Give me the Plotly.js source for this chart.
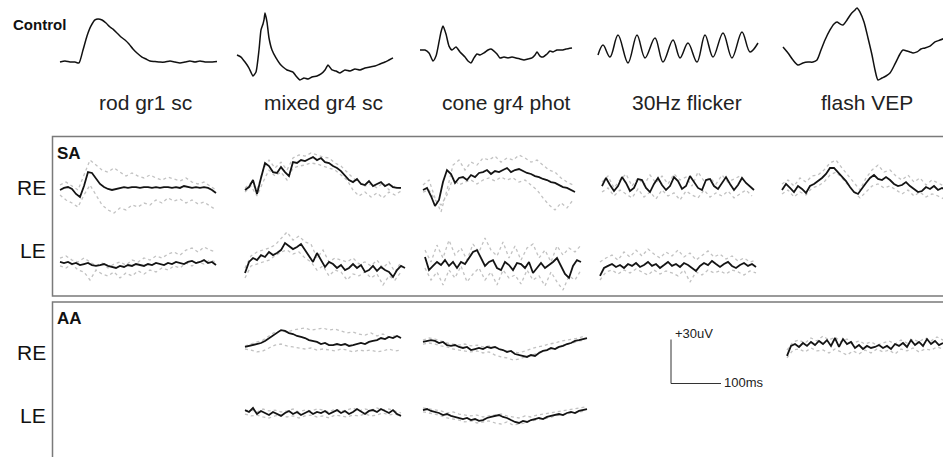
<!DOCTYPE html>
<html><head><meta charset="utf-8">
<script src="https://cdn.plot.ly/plotly-3.0.1.min.js"></script>
<style>html,body{margin:0;padding:0;background:#fff}#chart{width:943px;height:457px}</style>
</head><body><div id="chart"></div>
<script>
// ---------- labels ----------
const stimuli = ["rod gr1 sc", "mixed gr4 sc", "cone gr4 phot", "30Hz flicker", "flash VEP"];
const groupLabels = ["SA", "AA"];
const eyeLabels = ["RE", "LE"];
const controlLabel = "Control";
const scaleBarUV = 30;     // uV
const scaleBarMs = 100;    // ms

// ---------- control traces (time ms, amplitude uV) ----------
const ctrlRodT = [0,10,20,30,38,46,54,62,70,76,84,92,100,106,114,122,130,138,146,154,164,172,180,190,200,210,220,230,240,250,260,270,280,290,300,314];
const ctrlRodV = [-1.4,-0.7,-1.4,-1.4,-2,6.8,16.4,23.2,27.3,28,27.3,25.2,22.5,21.1,18.4,15.7,13.6,10.9,7.5,4.8,2,0.7,-0.7,-1,-1.4,-1.4,-0.7,-1.4,-2,-1.4,-0.7,-1.4,-0.7,-1.4,-1.4,-1];
const ctrlMixedT = [0,8,16,24,32,38,44,48,52,54,56,60,64,70,78,86,92,100,106,112,118,126,134,142,150,160,168,176,182,190,198,206,216,226,236,246,256,266,276,286,296,304,312];
const ctrlMixedV = [3.4,2,-1.4,-5.5,-10.9,-8.2,6.8,20.5,24.6,27.3,32,25.9,15,6.8,1.4,-2.7,-4.8,-6.8,-7.5,-8.2,-10.9,-13.6,-12.3,-13,-11.6,-10.9,-9.5,-6.8,-3.4,-6.8,-7.5,-8.9,-6.8,-7.5,-6.1,-6.8,-5.5,-4.8,-4.1,-2.7,-1.4,0,1.4];
const ctrlConeT = [0,10,18,26,32,38,42,46,52,58,64,72,80,90,96,102,108,114,120,128,136,142,148,154,160,168,176,184,192,200,208,216,224,230,234,240,246,254,260,266,274,284,292,304];
const ctrlConeV = [6.8,6.8,4.8,-0.7,2.7,12.3,19.1,23.2,17.7,9.5,6.8,8.9,5.5,2,-0.7,-2,1.4,4.1,3.4,4.8,6.8,7.5,6.1,4.1,1.4,2,1.4,2,1.4,0.7,0,0.7,1.4,3.4,5.5,2.7,2,4.1,6.1,5.5,6.8,6.8,7.5,8.2];
const ctrlFlickerT = [0,10,24,40,60,78,94,114,130,150,164,180,198,214,230,250,268,288,304,320];
const ctrlFlickerV = [3.4,10.2,2,17,-2,17,1.4,15,-1.4,13.6,1.4,11.6,-1.4,17,2,18.4,1.4,19.1,5.5,11.6];
const ctrlVepT = [0,10,20,30,40,50,60,68,76,84,94,102,108,114,120,128,136,144,148,154,162,170,178,184,190,198,206,214,224,234,240,248,254,260,268,276,284,294,304,314,324];
const ctrlVepV = [8.9,4.8,0,-3.4,-2,-1.4,-1.4,0,6.8,13.6,20.5,24.6,25.9,24.6,23.9,27.3,31.4,34.1,35.5,32.7,25.9,15,3.4,-6.8,-13.6,-12.3,-10.9,-8.9,-2.7,4.1,6.8,6.1,5.5,4.8,5.5,7.5,8.2,9.5,12.3,13.6,15];

// ---------- patient averages (black, 8 ms step) and single runs (grey, 12 ms step), uV ----------
const saReRod = [-3.4,-2,-1.4,-2.7,-6.1,-8.2,-0.7,8.8,8.2,4.1,0.7,-1.4,-2.7,-3.4,-2.7,-2,-1.4,-2,-1.4,-1.4,-2,-1.4,-1.4,-2,-1.4,-2,-1.4,-1.4,-2,-1.4,-2,-0.7,-1.4,-2,-1.4,-2,-1.4,-2,-3.4,-5.4];
const saReRodG1 = [0,2,-0.7,-3.4,6.8,17,13.6,10.2,8.8,11.6,8.8,6.1,8.2,6.1,4.8,6.8,4.8,3.4,5.4,4.1,2.7,4.8,2,0.7,2,-0.7,-3.4];
const saReRodG2 = [-6.8,-10.2,-12.3,-15,-6.8,0,-6.8,-13.6,-17,-19.1,-15.7,-17,-13.6,-15,-12.3,-13.6,-10.2,-12.3,-8.8,-10.9,-9.5,-12.3,-10.2,-12.9,-11.6,-14.3,-17];

const saReMixed = [-3.4,-1.4,3.4,-6.1,4.8,15,12.9,8.8,8.2,12.2,8.8,6.1,15.6,15,17,16.3,17.7,19,17,18.4,15.6,15,12.9,11.6,9.5,6.8,3.4,2,4.1,0.7,0,2.7,-0.7,0.7,2,-0.7,0.7,-1.4,-2,-2];
const saReMixedG1 = [-2,1.4,-3.4,10.2,17,11.6,15.6,10.2,18.4,20.5,19.7,21.8,20.5,19,18.4,15,12.9,8.8,4.8,2,-0.7,0.7,-2,1.4,-3.4,-0.7,-2.7];
const saReMixedG2 = [-4.8,-0.7,-7.5,2,10.2,6.1,8.8,3.4,11.6,12.9,13.6,15,14.3,12.9,11.6,10.2,6.8,3.4,-3.4,-7.5,-4.8,-8.2,-5.4,-8.8,-4.8,-6.8,-4.1];

const saReCone = [-3.4,-2,-7.5,-14.3,-10.2,2,10.2,7.5,1.4,4.8,5.4,3.4,6.8,5.4,8.2,8.8,10.2,7.5,9.5,8.8,10.2,11.6,8.8,10.2,10.9,9.5,8.2,7.5,6.1,5.4,4.1,3.4,2,1.4,0,-1.4,-2,-3.4,-4.8];
const saReConeG1 = [0,3.4,-8.8,-18.4,-3.4,13.6,17,10.2,15.6,13.6,18.4,17,19.7,15.6,18.4,17,20.4,18.4,15.6,17,13.6,10.2,8.8,4.8,2,0];
const saReConeG2 = [-4.8,-3.4,-10.2,-13.6,-6.8,4.8,0,2,3.4,0.7,3.4,4.8,2.7,5.4,3.4,4.8,2,3.4,0,-3.4,-8.8,-13.6,-17,-12.2,-15.6,-10.2];

const saReFlicker = [-0.7,4.8,0,-4.1,-0.7,5.4,1.4,-4.1,-2,4.1,3.4,-2,-4.8,0.7,4.8,0,-3.4,-0.7,5.4,2.7,-2.7,-0.7,6.1,2,-2,-3.4,3.4,4.1,-0.7,-2.7,1.4,5.4,0.7,-3.4,0,4.8,1.4,-0.7,-3.4];
const saReFlickerG1 = [2,6.1,-2,3.4,7.5,-0.7,4.8,0,6.8,1.4,6.1,0.7,7.5,3.4,5.4,-0.7,8.8,2.7,4.8,0.7,6.8,2,4.1,6.1,1.4,-2];
const saReFlickerG2 = [-4.8,-2,-7.5,-3.4,-6.1,-8.8,-2.7,-8.2,-4.8,-9.5,-3.4,-7.5,-5.4,-10.2,-4.1,-6.8,-8.8,-3.4,-8.2,-5.4,-7.5,-4.1,-8.8,-6.1,-3.4,-7.5];

const saReVep = [-3.4,0.7,-2,-4.8,-0.7,-2.7,-5.4,-0.7,0.7,2.7,4.8,7.5,11.6,11.6,8.8,6.1,2.7,-1.4,-4.8,-6.1,-2,1.4,4.8,6.8,4.1,3.4,5.4,3.4,0.7,-0.7,0,2,-0.7,-2.7,-4.8,-4.1,-1.4,-2.7,-0.7,-3.4,-2,-3.4];
const saReVepG1 = [0.7,3.4,-0.7,4.8,2,6.1,6.8,10.2,15,17,11.6,6.8,1.4,-3.4,4.8,10.2,13.6,8.8,10.2,6.1,3.4,6.8,2,4.8,0,3.4,1.4,-0.7];
const saReVepG2 = [-6.1,-3.4,-8.2,-4.8,-6.8,-2,-0.7,2,6.8,8.8,4.8,0,-4.8,-8.8,-4.8,-0.7,0.7,-2,-0.7,-3.4,-6.1,-3.4,-7.5,-4.8,-8.2,-6.1,-7.5,-9.5];

const saLeRod = [0.7,0,0.7,-0.7,0,-1.4,-0.7,0,-1.4,-2,-1.4,-0.7,-2,-2.7,-3.4,-2,-2.7,-1.4,-2,-0.7,-1.4,-2,-0.7,-1.4,0,-0.7,-1.4,0,-0.7,0.7,0,-0.7,0.7,1.4,0,0.7,2,0,0.7,-1.4];
const saLeRodG1 = [3.4,4.8,2,0.7,3.4,0.7,-2,0,-3.4,-0.7,0.7,-1.4,2,0.7,3.4,2,4.8,3.4,6.1,7.5,5.4,8.8,10.2,7.5,10.9,8.8,7.5];
const saLeRodG2 = [-2,-3.4,-0.7,-4.8,-6.1,-11.6,-4.8,-7.5,-8.8,-6.1,-10.2,-6.8,-8.8,-5.4,-7.5,-4.8,-6.1,-3.4,-4.8,-2,-3.4,0,-2,0.7,-0.7,2,0.7];

const saLeMixed = [-6.8,0.7,3.4,2,5.4,4.1,7.5,5.4,6.8,8.8,13.6,11.6,9.5,10.9,12.9,8.8,4.8,0.7,6.8,2,-2.7,0.7,-0.7,-3.4,-1.4,-4.8,-3.4,-0.7,-3.4,-1.4,-6.1,-4.8,-2,-5.4,-2.7,-4.8,-6.1,-9.5,-4.8,-2,-3.4];
const saLeMixedG1 = [-3.4,4.8,7.5,8.8,10.2,12.2,17,21.1,15.6,18.4,14.3,12.9,3.4,8.8,0.7,3.4,2,0.7,3.4,-0.7,0.7,-2,2,-3.4,0.7,-6.1,0.7];
const saLeMixedG2 = [-10.2,-2,-0.7,0.7,2,4.8,7.5,8.8,6.1,7.5,3.4,0.7,-4.8,-2,-8.8,-4.8,-6.1,-11.6,-7.5,-8.8,-6.1,-10.2,-7.5,-15,-8.8,-11.6,-6.1];

const saLeCone = [4.1,-4.8,-2,0.7,-1.4,2,-2,0.7,-3.4,0.7,-0.7,3.4,7.5,8.8,3.4,-2,0.7,2,-3.4,-4.8,0.7,-1.4,-4.8,0,-0.7,-3.4,0.7,-6.8,-3.4,0,-3.4,-1.4,0.7,3.4,-2,-7.5,-10.2,-2,2,0.7];
const saLeConeG1 = [8.8,0.7,12.2,3.4,15.6,5.4,10.2,2,12.9,7.5,17,8.8,4.8,14.3,3.4,11.6,2,10.2,12.9,3.4,8.8,0.7,11.6,5.4,10.2,7.5,12.2];
const saLeConeG2 = [-3.4,-11.6,-6.1,-15,-4.8,-10.2,-2,-12.9,-7.5,-3.4,-11.6,-6.1,-15,-4.8,-10.2,-8.2,-14.3,-4.8,-11.6,-8.8,-15.6,-6.1,-12.9,-18.4,-8.8,-11.6,-4.8];

const saLeFlicker = [-8.8,-3.4,-2,-0.7,-2.7,-1.4,-3.4,-0.7,-2,0,-2.7,-1.4,0.7,-2,-0.7,-3.4,-1.4,0.7,-2,-0.7,-2.7,0,-1.4,-3.4,-5.4,-2,0,-1.4,1.4,-0.7,-2.7,-0.7,0.7,-2,-3.4,-1.4,0,-2,-0.7,-2.7];
const saLeFlickerG1 = [0.7,3.4,5.4,2,7.5,4.1,8.8,4.8,9.5,6.1,3.4,7.5,4.8,8.8,4.1,6.8,2,5.4,8.2,4.1,6.1,2.7,4.8,1.4,3.4,0.7,2];
const saLeFlickerG2 = [-11.6,-6.1,-4.8,-7.5,-4.8,-6.8,-4.1,-6.1,-8.2,-4.8,-7.5,-5.4,-6.8,-8.8,-4.8,-13,-6.1,-8.2,-4.8,-6.8,-5.4,-7.5,-4.8,-6.1,-8.2,-5.4,-6.8];

const aaReMixed = [-2.7,-2,-1.4,-0.7,0,1.4,3.4,5.4,6.8,8.8,8.2,6.8,6.1,4.8,4.1,3.4,2,1.4,0.7,-0.7,0,-1.4,-1.4,-0.7,-1.4,-0.7,-2,-1.4,-0.7,0,-0.7,0.7,1.4,2,3.4,2.7,4.1,3.4,4.8,3.4];
const aaReMixedG1 = [-2,-0.7,0.7,2,4.8,7.5,8.2,7.5,8.8,9.5,10.2,8.8,9.5,10.2,8.8,9.5,8.2,6.8,7.5,6.1,5.4,6.8,4.8,6.1,4.1,4.8,3.4];
const aaReMixedG2 = [-4.1,-4.8,-6.1,-5.4,-3.4,-1.4,-0.7,-2,-2.7,-3.4,-4.1,-3.4,-4.8,-4.1,-4.8,-5.4,-4.1,-4.8,-6.1,-4.8,-5.4,-4.8,-6.1,-5.4,-4.1,-5.4,-4.8];

const aaReCone = [0.7,1.4,2,1.4,0,0.7,-1.4,-2,-1.4,-2.7,-3.4,-2.7,-4.8,-4.1,-3.4,-4.1,-2.7,-3.4,-2.7,-4.1,-4.8,-6.1,-5.4,-7.5,-8.2,-8.8,-9.5,-8.2,-8.8,-6.8,-5.4,-4.8,-3.4,-4.1,-2.7,-2,-0.7,0,1.4,2,2.7,3.4];
const aaReConeG1 = [2,3.4,2.7,1.4,0,-0.7,-1.4,-0.7,-2,-1.4,-2.7,-2,-3.4,-4.8,-5.4,-6.1,-6.8,-5.4,-4.1,-2.7,-2,-0.7,0,1.4,2,2.7,3.4,4.8];
const aaReConeG2 = [-0.7,0,-0.7,-2,-2.7,-4.1,-4.8,-5.4,-6.1,-5.4,-6.8,-6.1,-8.2,-9.5,-10.2,-11.6,-10.9,-9.5,-8.8,-6.8,-5.4,-4.8,-3.4,-2,-0.7,0,1.4,2];

const aaReVep = [-8.8,-2,-0.7,-2.7,0,-2,0.7,-1.4,1.4,-0.7,2,-2,3.4,-2.7,2.7,-0.7,0.7,-3.4,-1.4,-4.1,-2,-3.4,-2.7,-1.4,-3.4,-2,-4.1,-0.7,-2,0,-2.7,2,-1.4,0.7,-2,2.7,-0.7,1.4,-1.4,0];
const aaReVepG1 = [-4.8,0.7,2,0,3.4,1.4,4.8,2,4.1,0.7,2.7,0,1.4,-0.7,0.7,-1.4,0,1.4,-0.7,2,0,2.7,0.7,3.4,1.4,4.1,2];
const aaReVepG2 = [-10.2,-4.8,-4.1,-6.1,-3.4,-5.4,-4.8,-6.8,-4.1,-6.1,-8.2,-5.4,-7.5,-4.8,-6.8,-4.1,-6.1,-4.8,-7.5,-4.1,-5.4,-3.4,-6.1,-4.1,-4.8,-2.7,-4.1];

const aaLeMixed = [2,0.7,3.4,-0.7,1.4,0,-1.4,0.7,-0.7,-2,0,1.4,-0.7,0.7,-1.4,0,1.4,-0.7,0.7,0,1.4,-0.7,0.7,2,0,1.4,-0.7,0.7,2.7,0.7,-0.7,1.4,2,0.7,2.7,1.4,0,2,-0.7,-2];
const aaLeMixedG1 = [1.4,2,0.7,2.7,1.4,2,0.7,1.4,2.7,0.7,2,1.4,2.7,2,0.7,2.7,1.4,2,3.4,1.4,2.7,2,3.4,2,2.7,1.4,0];
const aaLeMixedG2 = [-0.7,-2,-1.4,-2.7,-3.4,-2,-1.4,-2.7,-2,-3.4,-2,-1.4,-2.7,-2,-3.4,-1.4,-2,-2.7,-1.4,-2,-0.7,-2,-1.4,0,-1.4,-0.7,-2];

const aaLeCone = [2,2.7,1.4,0.7,0,-1.4,-0.7,-2,-2.7,-3.4,-4.1,-3.4,-4.8,-4.1,-5.4,-4.8,-3.4,-2.7,-2,-1.4,-2.7,-3.4,-4.8,-6.1,-6.8,-5.4,-6.1,-4.8,-4.1,-3.4,-4.1,-2.7,-2,-1.4,-0.7,-1.4,0,0.7,0,1.4,2,2.7];
const aaLeConeG1 = [3.4,2.7,2,1.4,0,0.7,-0.7,-1.4,-2,-1.4,-2.7,-2,-1.4,-0.7,-2,-2.7,-3.4,-2,-2.7,-1.4,-0.7,0,0.7,1.4,2,2.7,3.4,4.1];
const aaLeConeG2 = [0.7,0,-0.7,-2,-3.4,-4.1,-4.8,-6.1,-5.4,-6.8,-6.1,-5.4,-6.8,-7.5,-6.1,-8.2,-7.5,-6.8,-5.4,-4.8,-4.1,-3.4,-2,-1.4,-0.7,0,0.7,1.4];

// ---------- layout geometry (page pixels) ----------
const PX_PER_MS = 0.5;
const PX_PER_UV = 44 / 30;
const AVG_DT = 8, RUN_DT = 12;
const ctrlBase = 60;
const ctrlCols = [60, 237, 420, 598, 783];
const ctrlSmooth = [0.6, 0.5, 0.6, 1.0, 0.7];
const rowBase = {"SA RE": 185, "SA LE": 263, "AA RE": 343, "AA LE": 413};

const ctrl = [[ctrlRodT, ctrlRodV], [ctrlMixedT, ctrlMixedV], [ctrlConeT, ctrlConeV], [ctrlFlickerT, ctrlFlickerV], [ctrlVepT, ctrlVepV]];
const panels = [
  ["SA RE", 60, saReRod, [saReRodG1, saReRodG2]],
  ["SA RE", 245, saReMixed, [saReMixedG1, saReMixedG2]],
  ["SA RE", 423, saReCone, [saReConeG1, saReConeG2]],
  ["SA RE", 602, saReFlicker, [saReFlickerG1, saReFlickerG2]],
  ["SA RE", 782, saReVep, [saReVepG1, saReVepG2]],
  ["SA LE", 60, saLeRod, [saLeRodG1, saLeRodG2]],
  ["SA LE", 245, saLeMixed, [saLeMixedG1, saLeMixedG2]],
  ["SA LE", 425, saLeCone, [saLeConeG1, saLeConeG2]],
  ["SA LE", 600, saLeFlicker, [saLeFlickerG1, saLeFlickerG2]],
  ["AA RE", 245, aaReMixed, [aaReMixedG1, aaReMixedG2]],
  ["AA RE", 423, aaReCone, [aaReConeG1, aaReConeG2]],
  ["AA RE", 787, aaReVep, [aaReVepG1, aaReVepG2]],
  ["AA LE", 245, aaLeMixed, [aaLeMixedG1, aaLeMixedG2]],
  ["AA LE", 423, aaLeCone, [aaLeConeG1, aaLeConeG2]]
];

const X = (x0, t) => x0 + t * PX_PER_MS;
const Y = (y0, v) => y0 - v * PX_PER_UV;

const traces = [];
function sampled(vals, dt, x0, y0, style) {
  traces.push({type: "scatter", mode: "lines", hoverinfo: "skip",
    x: vals.map((v, i) => X(x0, i * dt)), y: vals.map(v => Y(y0, v)), line: style});
}
const greyStyle = {color: "#c2c2c2", width: 1.3, dash: "dot"};
const avgStyle = {color: "#141414", width: 1.8};
panels.forEach(p => p[3].forEach(g => sampled(g, RUN_DT, p[1], rowBase[p[0]], greyStyle)));
panels.forEach(p => sampled(p[2], AVG_DT, p[1], rowBase[p[0]], avgStyle));
ctrl.forEach((c, k) => {
  traces.push({type: "scatter", mode: "lines", hoverinfo: "skip",
    x: c[0].map(t => X(ctrlCols[k], t)), y: c[1].map(v => Y(ctrlBase, v)),
    line: {color: "#111", width: 1.5, shape: "spline", smoothing: ctrlSmooth[k]}});
});

const F = "Liberation Sans, Arial, sans-serif";
const ann = [];
ann.push({x: 11, y: 24, text: "<b>" + controlLabel + "</b>", xanchor: "left", yanchor: "middle", font: {family: F, size: 15, color: "#111"}});
const labelCenters = [145, 323, 506, 687, 867];
stimuli.forEach((s, k) => ann.push({x: labelCenters[k], y: 102, text: s, xanchor: "center", yanchor: "middle", font: {family: F, size: 21, color: "#222"}}));
const groupY = [153.5, 318];
groupLabels.forEach((g, k) => ann.push({x: 55, y: groupY[k], text: "<b>" + g + "</b>", xanchor: "left", yanchor: "middle", font: {family: F, size: 17, color: "#111"}}));
const eyeY = [[187, 250], [352, 415]];
groupLabels.forEach((g, k) => eyeLabels.forEach((e, j) => ann.push({x: 48, y: eyeY[k][j], text: e, xanchor: "right", yanchor: "middle", font: {family: F, size: 21, color: "#111"}})));

// scale bar
const sbX = 671, sbY = 383.5;
const sbTop = Y(sbY, scaleBarUV), sbRight = X(sbX, scaleBarMs);
ann.push({x: sbX + 2, y: sbTop - 6, text: "+" + scaleBarUV + "uV", xanchor: "left", yanchor: "middle", font: {family: F, size: 13, color: "#222"}});
ann.push({x: sbRight + 1, y: sbY - 1, text: scaleBarMs + "ms", xanchor: "left", yanchor: "middle", font: {family: F, size: 13, color: "#222"}});
ann.forEach(a => { a.xref = "x"; a.yref = "y"; a.showarrow = false; });

const shapes = [
  {type: "rect", xref: "x", yref: "y", x0: 52.5, x1: 960, y0: 136.5, y1: 296, line: {color: "#7a7a7a", width: 1.5}},
  {type: "rect", xref: "x", yref: "y", x0: 52.5, x1: 960, y0: 302, y1: 480, line: {color: "#7a7a7a", width: 1.5}},
  {type: "line", xref: "x", yref: "y", x0: sbX, x1: sbX, y0: sbTop, y1: sbY, line: {color: "#333", width: 1}},
  {type: "line", xref: "x", yref: "y", x0: sbX, x1: sbRight, y0: sbY, y1: sbY, line: {color: "#333", width: 1}}
];

const layout = {
  width: 943, height: 457, margin: {l: 0, r: 0, t: 0, b: 0},
  paper_bgcolor: "#fff", plot_bgcolor: "#fff", showlegend: false,
  xaxis: {range: [0, 943], visible: false, fixedrange: true},
  yaxis: {range: [457, 0], visible: false, fixedrange: true},
  annotations: ann, shapes: shapes
};
Plotly.newPlot("chart", traces, layout, {staticPlot: true, displayModeBar: false});
</script></body></html>
